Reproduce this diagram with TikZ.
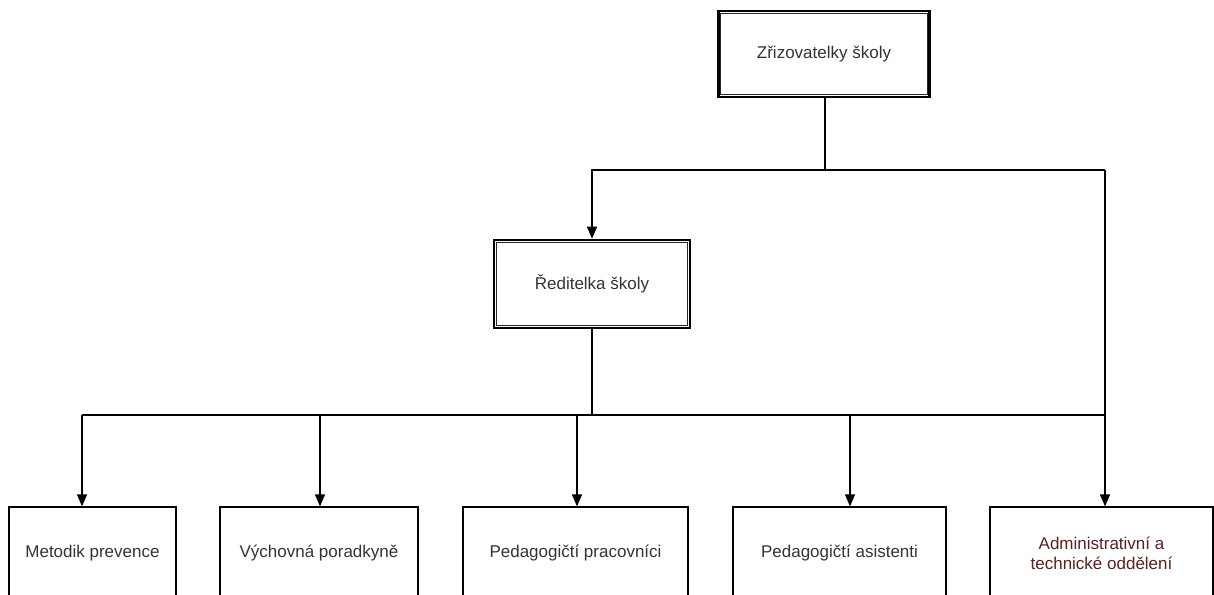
\documentclass[tikz,border=0pt]{standalone}
\usepackage{fontspec}
\setmainfont{Liberation Sans}
\usetikzlibrary{arrows.meta}
\definecolor{txt}{HTML}{333333}
\definecolor{admin}{HTML}{5C1F1F}
\begin{document}
\begin{tikzpicture}[x=1pt,y=-1pt,
  lab/.style={font=\fontsize{17}{20}\selectfont, text=txt, align=center, inner sep=0pt},
  boss/.style={lab, draw=black, line width=2.6pt},
  inner/.style={draw=black!85, line width=1.1pt},
  unit/.style={lab, draw=black, line width=1.3pt},
  conn/.style={line width=1.3pt, draw=black},
  arr/.style={conn, -{Triangle[width=10pt,length=12pt]}}]
\useasboundingbox (0,0) rectangle (1214,594);
\clip (0,0) rectangle (1214,594);
\node[boss, minimum width=211pt, minimum height=86pt] (top) at (824,54) {Zřizovatelky školy};
\draw[inner] ([shift={(3.4,3.4)}]top.north west) rectangle ([shift={(-3.4,-3.4)}]top.south east);
\node[boss, minimum width=196pt, minimum height=88pt] (red) at (592,284) {Ředitelka školy};
\draw[inner] ([shift={(3.4,3.4)}]red.north west) rectangle ([shift={(-3.4,-3.4)}]red.south east);
\node[unit, minimum width=167pt, minimum height=92pt] (b1) at (92.5,553) {Metodik prevence};
\node[unit, minimum width=198pt, minimum height=92pt] (b2) at (319,553) {Výchovná poradkyně};
\node[unit, minimum width=225pt, minimum height=92pt] (b3) at (575.5,553) {Pedagogičtí pracovníci};
\node[unit, minimum width=213pt, minimum height=92pt] (b4) at (839.5,553) {Pedagogičtí asistenti};
\node[unit, minimum width=223pt, minimum height=92pt, text=admin] (b5) at (1101.5,553) {Administrativní a\\technické oddělení};
\coordinate (j1) at (825,170);
\coordinate (j2) at (592,415);
\coordinate (r1) at (1105,170);
\coordinate (r2) at (1105,415);
\draw[conn] (top.south -| j1) -- (j1);
\draw[arr] (j1) -| (red.north);
\draw[conn] (j1) -- (r1);
\draw[arr] (r1) -- (r1 |- b5.north);
\draw[conn] (red.south) -- (j2);
\draw[conn] (82,415) coordinate (l1) -- (r2);
\draw[arr] (l1) -- (l1 |- b1.north);
\draw[arr] (320,415) coordinate (l2) -- (l2 |- b2.north);
\draw[arr] (577,415) coordinate (l3) -- (l3 |- b3.north);
\draw[arr] (850,415) coordinate (l4) -- (l4 |- b4.north);
\end{tikzpicture}
\end{document}
